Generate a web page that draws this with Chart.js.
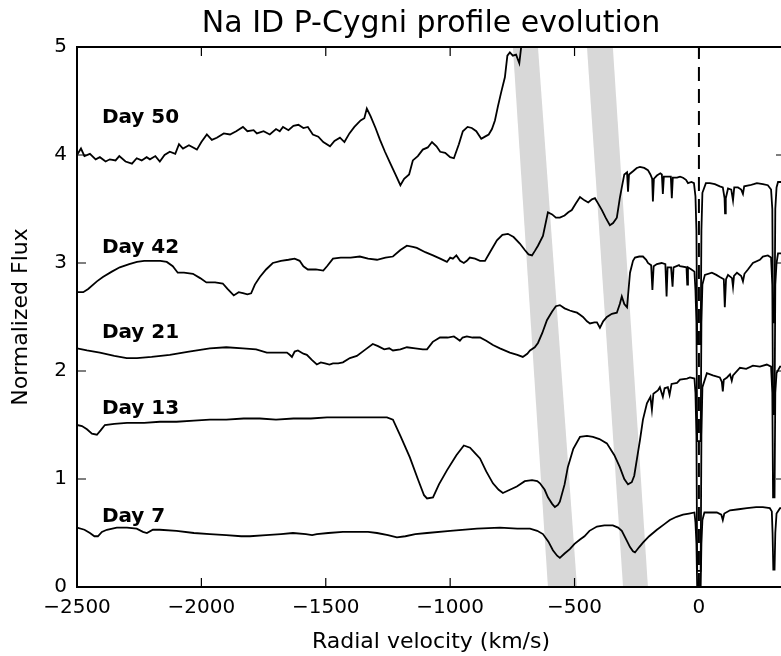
<!DOCTYPE html>
<html>
<head>
<meta charset="utf-8">
<script src="https://cdn.jsdelivr.net/npm/chart.js@4.4.1/dist/chart.umd.min.js"></script>
<style>
  html, body { margin: 0; padding: 0; background: #fff; overflow: hidden; }
  #wrap { width: 790px; height: 656px; }
</style>
</head>
<body>
<div id="wrap"><canvas id="spec" width="790" height="656"></canvas></div>
<script>
// velocity (km/s), normalized flux
const day50 = [[-2500,4.00],[-2484,4.06],[-2470,3.99],[-2448,4.01],[-2425,3.96],[-2408,3.98],[-2385,3.94],[-2368,3.96],[-2345,3.95],[-2330,3.99],[-2305,3.94],[-2279,3.92],[-2260,3.97],[-2240,3.95],[-2220,3.98],[-2207,3.96],[-2185,3.99],[-2167,3.94],[-2148,4.00],[-2127,4.03],[-2105,4.01],[-2090,4.10],[-2074,4.06],[-2050,4.09],[-2018,4.05],[-2000,4.12],[-1978,4.19],[-1958,4.14],[-1938,4.16],[-1910,4.20],[-1885,4.19],[-1860,4.22],[-1833,4.26],[-1815,4.22],[-1790,4.23],[-1777,4.20],[-1750,4.22],[-1725,4.19],[-1700,4.24],[-1685,4.22],[-1672,4.26],[-1650,4.23],[-1630,4.27],[-1610,4.28],[-1590,4.25],[-1572,4.26],[-1552,4.19],[-1530,4.17],[-1510,4.12],[-1483,4.08],[-1465,4.13],[-1443,4.16],[-1425,4.12],[-1405,4.20],[-1385,4.26],[-1360,4.32],[-1345,4.34],[-1335,4.43],[-1320,4.36],[-1300,4.25],[-1282,4.14],[-1262,4.03],[-1242,3.93],[-1220,3.82],[-1200,3.72],[-1185,3.78],[-1165,3.82],[-1150,3.95],[-1130,3.99],[-1110,4.05],[-1090,4.07],[-1073,4.12],[-1055,4.08],[-1040,4.03],[-1020,4.02],[-1000,3.98],[-985,3.97],[-965,4.10],[-949,4.22],[-930,4.26],[-913,4.25],[-895,4.22],[-875,4.15],[-860,4.17],[-845,4.19],[-832,4.24],[-820,4.32],[-808,4.45],[-795,4.58],[-780,4.72],[-770,4.92],[-760,4.95],[-748,4.92],[-735,4.93],[-722,4.85],[-712,5.05],[-700,5.4],[-690,5.7]];

const day42 = [[-2500,2.73],[-2475,2.73],[-2455,2.76],[-2420,2.83],[-2396,2.87],[-2360,2.92],[-2328,2.96],[-2290,2.99],[-2259,3.01],[-2230,3.02],[-2195,3.02],[-2165,3.02],[-2139,3.01],[-2115,2.97],[-2095,2.91],[-2070,2.91],[-2034,2.90],[-2005,2.86],[-1980,2.82],[-1945,2.82],[-1914,2.81],[-1895,2.76],[-1870,2.70],[-1850,2.73],[-1833,2.72],[-1815,2.71],[-1800,2.72],[-1785,2.80],[-1765,2.87],[-1740,2.94],[-1713,3.00],[-1680,3.02],[-1650,3.03],[-1625,3.04],[-1605,3.02],[-1590,2.97],[-1572,2.94],[-1540,2.94],[-1510,2.93],[-1495,2.97],[-1471,3.04],[-1440,3.05],[-1400,3.05],[-1363,3.06],[-1330,3.04],[-1294,3.03],[-1260,3.05],[-1230,3.06],[-1200,3.12],[-1174,3.16],[-1150,3.15],[-1134,3.14],[-1100,3.10],[-1069,3.07],[-1040,3.04],[-1013,3.01],[-1000,3.05],[-989,3.04],[-975,3.07],[-960,3.02],[-945,3.00],[-933,3.02],[-921,3.05],[-900,3.04],[-880,3.02],[-860,3.02],[-840,3.10],[-812,3.21],[-790,3.26],[-768,3.27],[-745,3.24],[-720,3.18],[-700,3.12],[-685,3.08],[-671,3.07],[-660,3.11],[-647,3.16],[-627,3.25],[-607,3.47],[-590,3.45],[-575,3.42],[-559,3.42],[-540,3.44],[-525,3.47],[-511,3.49],[-495,3.55],[-478,3.61],[-460,3.58],[-445,3.56],[-430,3.59],[-418,3.60],[-405,3.55],[-390,3.49],[-375,3.42],[-358,3.35],[-345,3.37],[-330,3.42],[-318,3.60],[-310,3.70],[-300,3.82],[-289,3.84],[-285,3.66],[-281,3.82],[-265,3.85],[-250,3.88],[-237,3.89],[-220,3.88],[-205,3.86],[-195,3.82],[-188,3.78],[-185,3.57],[-181,3.78],[-169,3.81],[-155,3.83],[-149,3.82],[-145,3.64],[-141,3.80],[-125,3.80],[-113,3.80],[-109,3.60],[-105,3.79],[-88,3.79],[-76,3.80],[-64,3.79],[-52,3.77],[-44,3.74],[-30,3.75],[-20,3.74],[-14,3.62],[-10,3.30],[-7,2.25],[7,2.25],[10,3.30],[14,3.65],[28,3.74],[44,3.74],[64,3.73],[84,3.71],[96,3.70],[103,3.60],[105,3.46],[108,3.60],[117,3.69],[130,3.68],[137,3.58],[142,3.70],[157,3.70],[170,3.68],[177,3.64],[182,3.71],[205,3.72],[220,3.73],[233,3.74],[257,3.73],[277,3.72],[290,3.68],[295,3.50],[298,2.45],[304,2.45],[307,3.50],[312,3.70],[318,3.75],[346,3.75]];

const day21 = [[-2500,2.21],[-2460,2.19],[-2408,2.17],[-2350,2.14],[-2300,2.12],[-2259,2.12],[-2200,2.13],[-2127,2.15],[-2050,2.18],[-1966,2.21],[-1900,2.22],[-1833,2.21],[-1780,2.20],[-1737,2.17],[-1700,2.17],[-1656,2.17],[-1645,2.15],[-1636,2.13],[-1625,2.18],[-1612,2.19],[-1590,2.16],[-1576,2.15],[-1555,2.10],[-1536,2.06],[-1520,2.08],[-1503,2.07],[-1485,2.06],[-1471,2.07],[-1450,2.07],[-1431,2.08],[-1403,2.12],[-1375,2.14],[-1340,2.20],[-1311,2.25],[-1290,2.23],[-1265,2.20],[-1245,2.21],[-1230,2.19],[-1200,2.20],[-1174,2.22],[-1140,2.21],[-1110,2.20],[-1093,2.20],[-1070,2.27],[-1041,2.31],[-1010,2.31],[-985,2.32],[-973,2.30],[-961,2.28],[-950,2.31],[-933,2.32],[-910,2.31],[-880,2.31],[-855,2.28],[-828,2.24],[-800,2.21],[-760,2.17],[-730,2.15],[-708,2.13],[-690,2.16],[-679,2.19],[-660,2.22],[-647,2.26],[-630,2.35],[-611,2.47],[-590,2.55],[-575,2.60],[-559,2.61],[-540,2.58],[-519,2.56],[-505,2.55],[-490,2.54],[-478,2.52],[-466,2.50],[-450,2.46],[-438,2.44],[-420,2.45],[-410,2.45],[-398,2.40],[-385,2.46],[-370,2.50],[-350,2.53],[-330,2.54],[-318,2.62],[-310,2.69],[-300,2.62],[-289,2.59],[-283,2.75],[-277,2.91],[-265,3.02],[-257,3.05],[-240,3.06],[-225,3.06],[-212,3.03],[-205,3.00],[-192,2.98],[-187,2.75],[-182,2.97],[-169,2.99],[-150,3.00],[-135,2.99],[-130,2.69],[-126,2.96],[-112,2.96],[-106,2.78],[-102,2.96],[-80,2.98],[-76,2.97],[-50,2.96],[-47,2.80],[-44,2.96],[-30,2.94],[-18,2.92],[-14,2.75],[-10,2.45],[-7,1.35],[7,1.35],[10,2.45],[14,2.80],[24,2.89],[52,2.91],[70,2.89],[84,2.87],[100,2.85],[104,2.59],[109,2.85],[117,2.89],[133,2.86],[137,2.78],[141,2.88],[153,2.91],[170,2.88],[177,2.83],[183,2.90],[197,2.94],[217,3.00],[245,3.03],[257,3.06],[277,3.07],[290,3.05],[295,2.80],[298,1.60],[304,1.60],[307,2.80],[312,3.00],[318,3.09],[346,3.09]];

const day13 = [[-2500,1.50],[-2480,1.49],[-2460,1.46],[-2440,1.42],[-2420,1.41],[-2405,1.45],[-2388,1.50],[-2350,1.51],[-2299,1.52],[-2230,1.52],[-2167,1.53],[-2100,1.53],[-2030,1.54],[-1966,1.55],[-1900,1.55],[-1830,1.56],[-1765,1.56],[-1700,1.55],[-1630,1.56],[-1560,1.56],[-1495,1.57],[-1420,1.57],[-1350,1.57],[-1290,1.57],[-1254,1.57],[-1230,1.55],[-1200,1.40],[-1162,1.20],[-1130,1.00],[-1105,0.85],[-1093,0.82],[-1069,0.83],[-1045,0.95],[-1013,1.08],[-975,1.22],[-945,1.31],[-920,1.29],[-900,1.24],[-880,1.19],[-855,1.07],[-828,0.96],[-805,0.90],[-788,0.87],[-760,0.90],[-732,0.93],[-700,0.98],[-671,0.99],[-650,0.98],[-639,0.96],[-620,0.90],[-607,0.83],[-590,0.77],[-579,0.74],[-567,0.76],[-559,0.79],[-540,0.95],[-527,1.11],[-505,1.28],[-478,1.39],[-450,1.40],[-426,1.39],[-400,1.37],[-370,1.33],[-340,1.22],[-318,1.11],[-300,1.00],[-285,0.95],[-270,0.97],[-260,1.03],[-237,1.36],[-225,1.55],[-209,1.70],[-195,1.76],[-189,1.64],[-183,1.79],[-165,1.82],[-157,1.85],[-145,1.76],[-138,1.84],[-125,1.85],[-118,1.78],[-110,1.88],[-88,1.89],[-76,1.92],[-48,1.93],[-36,1.94],[-18,1.93],[-14,1.80],[-10,1.40],[-7,0.15],[7,0.15],[10,1.40],[14,1.85],[32,1.98],[56,1.96],[84,1.94],[92,1.90],[96,1.81],[100,1.92],[113,1.94],[125,1.97],[132,1.91],[137,1.96],[165,2.03],[190,2.02],[217,2.05],[245,2.04],[273,2.06],[290,2.04],[295,1.80],[298,0.83],[304,0.83],[307,1.80],[312,1.98],[326,2.04],[346,2.04]];

const day7 = [[-2500,0.55],[-2470,0.53],[-2448,0.50],[-2430,0.47],[-2416,0.47],[-2400,0.51],[-2380,0.53],[-2340,0.55],[-2299,0.55],[-2260,0.54],[-2235,0.51],[-2219,0.50],[-2195,0.53],[-2167,0.53],[-2100,0.52],[-2030,0.50],[-1966,0.49],[-1900,0.48],[-1840,0.47],[-1805,0.47],[-1740,0.48],[-1680,0.49],[-1632,0.50],[-1580,0.49],[-1555,0.48],[-1536,0.49],[-1490,0.50],[-1431,0.51],[-1380,0.51],[-1330,0.51],[-1294,0.50],[-1250,0.48],[-1214,0.46],[-1180,0.47],[-1140,0.49],[-1093,0.50],[-1000,0.52],[-892,0.54],[-800,0.55],[-730,0.54],[-679,0.54],[-650,0.52],[-627,0.49],[-605,0.42],[-587,0.34],[-570,0.29],[-559,0.27],[-540,0.31],[-519,0.35],[-500,0.40],[-478,0.44],[-460,0.47],[-440,0.52],[-410,0.56],[-380,0.57],[-346,0.57],[-325,0.55],[-310,0.52],[-290,0.43],[-277,0.37],[-265,0.33],[-257,0.32],[-240,0.37],[-225,0.41],[-200,0.47],[-169,0.53],[-140,0.58],[-117,0.62],[-90,0.65],[-64,0.67],[-40,0.68],[-18,0.69],[-14,0.60],[-10,0.40],[-7,0.00],[7,0.00],[10,0.40],[14,0.62],[22,0.69],[50,0.69],[72,0.69],[90,0.67],[96,0.62],[102,0.68],[125,0.71],[160,0.72],[193,0.73],[230,0.74],[257,0.74],[285,0.73],[293,0.70],[296,0.50],[299,0.16],[304,0.16],[307,0.50],[312,0.68],[326,0.73],[346,0.73]];

// slanted grey bands: velocity at top-left, top-right (flux 5) and bottom-left, bottom-right (flux 0)
const bands = [[-748, -647, -607, -490], [-450, -346, -305, -205]];

const dayNames = ['Day 50', 'Day 42', 'Day 21', 'Day 13', 'Day 7'];
const dayLabelV = [-2400, -2400, -2400, -2400, -2400];
const dayLabelF = [4.30, 3.09, 2.31, 1.60, 0.60];

const xTicks = [-2500, -2000, -1500, -1000, -500, 0];
const yTicks = [0, 1, 2, 3, 4, 5];

const FONT = "'DejaVu Sans', sans-serif";
Chart.defaults.font.family = FONT;
Chart.defaults.color = '#000';

function toPts(arr) {
  return arr.map(p => ({x: p[0], y: p[1]}));
}

var datasets = [];

bands.forEach(function(b) {
  datasets.push({
    data: [{x: b[0], y: 5}, {x: b[2], y: 0}, {x: b[3], y: 0}, {x: b[1], y: 5}, {x: b[0], y: 5}],
    showLine: true,
    fill: 'shape',
    backgroundColor: '#d8d8d8',
    borderWidth: 0,
    borderColor: 'rgba(0,0,0,0)',
    pointRadius: 0,
    order: 10
  });
});

datasets.push({
  data: [{x: 0, y: 0}, {x: 0, y: 5}],
  showLine: true,
  borderColor: '#000',
  borderWidth: 2,
  borderDash: [14, 8],
  pointRadius: 0,
  order: 5
});

[day50, day42, day21, day13, day7].forEach(function(d) {
  datasets.push({
    data: toPts(d),
    showLine: true,
    fill: false,
    borderColor: '#000',
    borderWidth: 1.8,
    pointRadius: 0,
    tension: 0,
    order: 1
  });
});

function minus(v) {
  return String(v).replace('-', '\u2212');
}

// spines all round, ticks pointing inward (matplotlib classic look)
const frame = {
  id: 'frame',
  afterDatasetsDraw(chart) {
    const {ctx, chartArea: a, scales: {x, y}} = chart;
    const tl = 9;
    ctx.save();
    ctx.strokeStyle = '#000';
    ctx.lineWidth = 1.2;
    ctx.beginPath();
    xTicks.forEach(function(v) {
      const px = x.getPixelForValue(v);
      ctx.moveTo(px, a.bottom); ctx.lineTo(px, a.bottom - tl);
      ctx.moveTo(px, a.top); ctx.lineTo(px, a.top + tl);
    });
    yTicks.forEach(function(v) {
      const py = y.getPixelForValue(v);
      ctx.moveTo(a.left, py); ctx.lineTo(a.left + tl, py);
      ctx.moveTo(a.right, py); ctx.lineTo(a.right - tl, py);
    });
    ctx.stroke();
    ctx.lineWidth = 2;
    ctx.strokeRect(a.left, a.top, a.right - a.left, a.bottom - a.top);
    ctx.restore();
  }
};

const dayLabels = {
  id: 'dayLabels',
  afterDatasetsDraw(chart) {
    const {ctx, scales: {x, y}} = chart;
    ctx.save();
    ctx.fillStyle = '#000';
    ctx.font = 'bold 20px ' + FONT;
    ctx.textBaseline = 'alphabetic';
    ctx.textAlign = 'left';
    for (var i = 0; i < dayNames.length; i++) {
      ctx.fillText(dayNames[i], x.getPixelForValue(dayLabelV[i]), y.getPixelForValue(dayLabelF[i]));
    }
    ctx.restore();
  }
};

new Chart(document.getElementById('spec'), {
  type: 'scatter',
  data: { datasets: datasets },
  options: {
    animation: false,
    responsive: false,
    events: [],
    layout: { padding: { left: 0, right: 5, top: 0, bottom: 0 } },
    plugins: {
      legend: { display: false },
      tooltip: { enabled: false },
      title: {
        display: true,
        text: 'Na ID P-Cygni profile evolution',
        fullSize: false,
        color: '#000',
        font: { size: 30, weight: 'normal' },
        lineHeight: 1.2,
        padding: { top: 6, bottom: 5 }
      }
    },
    scales: {
      x: {
        type: 'linear',
        min: -2500,
        max: 346,
        afterBuildTicks: function(s) { s.ticks = xTicks.map(v => ({value: v})); },
        afterFit: function(s) { s.height = 69; },
        grid: { display: false, drawTicks: false },
        border: { display: false },
        ticks: { font: { size: 20 }, padding: 9, maxRotation: 0, autoSkip: false, callback: v => minus(v) },
        title: { display: true, text: 'Radial velocity (km/s)', font: { size: 22 }, padding: { top: 0, bottom: 1 } }
      },
      y: {
        type: 'linear',
        min: 0,
        max: 5,
        afterBuildTicks: function(s) { s.ticks = yTicks.map(v => ({value: v})); },
        afterFit: function(s) { s.width = 77; },
        grid: { display: false, drawTicks: false },
        border: { display: false },
        ticks: { font: { size: 20 }, padding: 10, callback: v => minus(v) },
        title: { display: true, text: 'Normalized Flux', font: { size: 22 }, padding: { top: 8, bottom: 0 } }
      }
    }
  },
  plugins: [frame, dayLabels]
});
</script>
</body>
</html>
